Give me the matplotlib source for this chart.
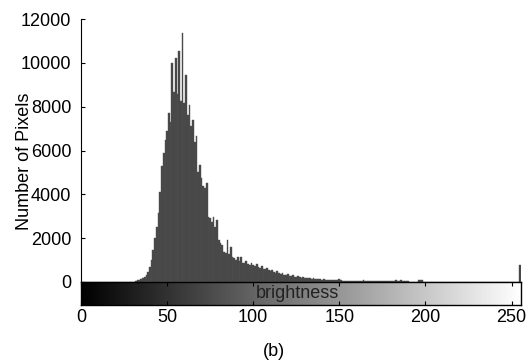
import numpy as np
import matplotlib
matplotlib.use("Agg")
import matplotlib.pyplot as plt

plt.rcParams["font.family"] = ["Liberation Sans", "DejaVu Sans"]

# brightness bins 0..255 and pixel counts
brightness = np.arange(256)
counts = np.array([
    # 0-15
    0, 0, 0, 0, 0, 0, 0, 0, 0, 0, 0, 0, 0, 0, 0, 0,
    # 16-31
    0, 0, 0, 0, 0, 0, 0, 0, 0, 0, 0, 0, 0, 0, 0, 0,
    # 32-47
    50, 80, 100, 120, 160, 220, 300, 450, 700, 1000, 1450, 2000, 2500, 3150, 4100, 5300,
    # 48-63
    5900, 6500, 6900, 7700, 7300, 9970, 8650, 10200, 8600, 10550, 8250, 11350, 8150, 9440, 7600, 8070,
    # 64-79
    7100, 7390, 6400, 6650, 5000, 5350, 4750, 4400, 4300, 4500, 2980, 2940, 2750, 2980, 2520, 2830,
    # 80-95
    1920, 1780, 1700, 1350, 1320, 1920, 1280, 1610, 1150, 1080, 1020, 1150, 960, 1150, 870, 850,
    # 96-111
    960, 820, 780, 880, 760, 720, 800, 690, 660, 720, 610, 590, 650, 540, 500, 560,
    # 112-127
    450, 430, 480, 390, 370, 420, 330, 310, 350, 280, 260, 300, 240, 230, 260, 210,
    # 128-143
    200, 230, 190, 180, 200, 160, 150, 170, 140, 130, 150, 120, 110, 130, 100, 100,
    # 144-159
    110, 90, 85, 95, 80, 80, 140, 70, 65, 60, 55, 55, 50, 45, 45, 40,
    # 160-175
    40, 35, 35, 35, 80, 30, 30, 30, 30, 30, 25, 25, 25, 25, 25, 25,
    # 176-191
    25, 25, 25, 25, 25, 60, 50, 70, 40, 60, 70, 40, 60, 50, 30, 20,
    # 192-207
    20, 20, 20, 20, 90, 80, 90, 20, 15, 15, 15, 15, 15, 15, 15, 15,
    # 208-223
    15, 15, 15, 15, 15, 15, 15, 15, 15, 15, 15, 15, 15, 15, 15, 15,
    # 224-239
    15, 15, 15, 15, 15, 15, 15, 15, 15, 15, 15, 15, 15, 15, 15, 15,
    # 240-255
    15, 15, 15, 15, 15, 15, 15, 15, 15, 15, 15, 15, 15, 15, 15, 780,
])

yticks = [0, 2000, 4000, 6000, 8000, 10000, 12000]
xticks = [0, 50, 100, 150, 200, 250]
xmax = 255.5

fig = plt.figure(figsize=(5.31, 3.64), dpi=100)

# histogram axes
ax = fig.add_axes([81 / 531, 1 - 282 / 364, 440 / 531, 263 / 364])
ax.bar(brightness, counts, width=1.0, color="#474747", edgecolor="#505050", linewidth=0.3)
ax.set_xlim(0, xmax)
ax.set_ylim(0, 12000)
ax.set_yticks(yticks)
ax.set_xticks([])
for s in ["top", "right", "bottom"]:
    ax.spines[s].set_visible(False)
ax.spines["left"].set_linewidth(0.8)
ax.tick_params(axis="y", direction="in", length=3, labelsize=13, pad=7)
ax.set_ylabel("Number of Pixels", fontsize=13)
ax.yaxis.set_label_coords(-0.11, 0.46)

# gray-level colorbar under the histogram
cax = fig.add_axes([81 / 531, 1 - 305 / 364, 440 / 531, 23 / 364])
cax.imshow(np.linspace(0, 1, 256).reshape(1, -1), cmap="gray", aspect="auto",
           extent=[0, xmax, 0, 1], vmin=0, vmax=1)
cax.set_xlim(0, xmax)
cax.set_ylim(0, 1)
cax.set_yticks([])
cax.set_xticks(xticks)
cax.tick_params(axis="x", direction="in", length=3, top=True, labelsize=13, pad=3)
for s in cax.spines.values():
    s.set_linewidth(1.0)
cax.text(0.493, 0.5, "brightness", transform=cax.transAxes, ha="center", va="center",
         fontsize=13, color="#222222")

fig.text(274 / 531, 1 - 352 / 364, "(b)", ha="center", va="center", fontsize=13)

fig.savefig("out.png", dpi=100)
